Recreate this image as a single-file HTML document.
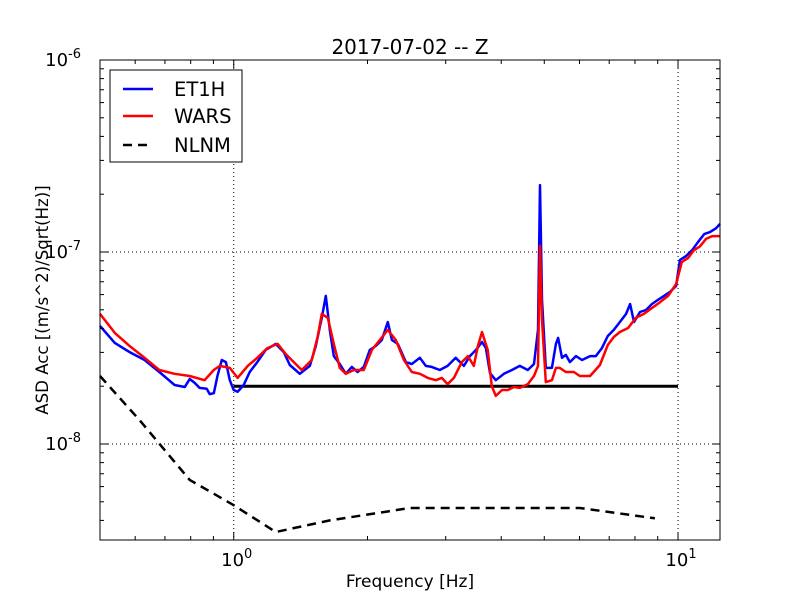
<!DOCTYPE html>
<html><head><meta charset="utf-8"><style>
body{margin:0;background:#fff;}
svg{display:block;font-family:"DejaVu Sans","Liberation Sans",sans-serif;}
</style></head><body>
<svg id="chart" width="800" height="600" viewBox="0 0 800 600" xmlns="http://www.w3.org/2000/svg">
<rect x="0" y="0" width="800" height="600" fill="#fff"/>
<g id="grid"></g>
<g id="series"></g>
<g id="axes"></g>
</svg>
<script>
// ---- data (frequency in Hz, ASD in (m/s^2)/sqrt(Hz)) ----
const et1hFreq=[0.50,0.54,0.583,0.63,0.68,0.736,0.776,0.796,0.817,0.838,0.869,0.883,0.902,0.92,0.94,0.96,0.98,1.0,1.02,1.053,1.086,1.13,1.18,1.243,1.296,1.337,1.408,1.483,1.53,1.578,1.611,1.645,1.68,1.733,1.787,1.844,1.90,1.962,2.024,2.088,2.154,2.222,2.27,2.34,2.44,2.517,2.624,2.706,2.79,2.91,3.03,3.16,3.296,3.40,3.51,3.62,3.695,3.773,3.89,4.055,4.227,4.405,4.59,4.74,4.84,4.89,4.94,5.04,5.20,5.31,5.37,5.48,5.59,5.71,5.89,6.08,6.34,6.53,6.74,6.95,7.17,7.40,7.64,7.80,7.96,8.21,8.47,8.74,9.01,9.30,9.59,9.90,10.1,10.42,10.75,11.1,11.45,11.8,12.18,12.43];
const et1hVals=[4.12,3.36,3.01,2.74,2.37,2.03,1.98,2.18,2.08,1.96,1.94,1.82,1.84,2.29,2.74,2.67,2.15,1.91,1.87,2.03,2.37,2.67,3.09,3.32,3.01,2.58,2.32,2.55,3.24,4.54,5.91,3.93,2.87,2.61,2.32,2.52,2.37,2.52,3.09,3.24,3.48,4.32,3.48,3.32,2.67,2.61,2.81,2.55,2.52,2.43,2.55,2.81,2.55,2.87,3.09,3.40,3.16,2.34,2.15,2.32,2.43,2.55,2.43,2.61,3.93,22.3,5.63,2.49,2.49,3.32,3.57,2.81,2.91,2.67,2.87,2.74,2.87,2.87,3.16,3.65,3.93,4.32,4.76,5.36,4.32,4.87,4.99,5.36,5.63,5.91,6.2,6.65,9.08,9.52,10.2,11.3,12.4,12.7,13.3,14.0];
const warsFreq=[0.50,0.54,0.583,0.63,0.68,0.736,0.796,0.86,0.902,0.93,0.98,1.02,1.075,1.13,1.19,1.256,1.31,1.365,1.422,1.499,1.546,1.578,1.628,1.68,1.733,1.787,1.863,1.962,2.046,2.132,2.222,2.316,2.415,2.517,2.624,2.734,2.85,2.94,3.03,3.13,3.26,3.365,3.47,3.544,3.62,3.73,3.81,3.89,4.015,4.14,4.27,4.405,4.59,4.74,4.84,4.89,4.94,5.04,5.20,5.31,5.42,5.59,5.83,6.01,6.34,6.67,6.95,7.17,7.40,7.72,8.04,8.38,8.74,9.11,9.50,9.90,10.2,10.53,10.86,11.2,11.56,11.93,12.43];
const warsVals=[4.76,3.79,3.24,2.81,2.43,2.32,2.26,2.15,2.43,2.55,2.49,2.21,2.55,2.81,3.16,3.32,2.94,2.67,2.43,2.74,3.65,4.76,4.54,3.32,2.49,2.32,2.43,2.43,3.09,3.48,3.93,3.48,2.74,2.37,2.32,2.21,2.15,2.21,2.05,2.21,2.67,2.87,2.55,3.24,3.83,3.09,2.0,1.78,1.91,1.91,1.98,1.96,2.05,2.26,2.55,10.8,4.43,2.10,2.15,2.49,2.49,2.37,2.37,2.26,2.26,2.58,3.28,3.61,3.83,4.02,4.54,4.76,5.11,5.48,5.91,6.81,8.87,9.3,10.2,10.7,11.7,12.1,12.1];
const nlnmFreq=[0.5,0.614,0.796,1.0,1.243,1.645,2.49,6.01,8.87];
const nlnmVals=[2.26,1.33,0.65,0.48,0.348,0.40,0.464,0.464,0.41];
const refFreq=[1,10];
const refVals=[2.0,2.0];
const valScale=1e-8;
const xTickVals=[1,10];
const xTickExp=["0","1"];
const yTickVals=[1e-8,1e-7,1e-6];
const yTickExp=["-8","-7","-6"];

// ---- axes ----
const L=100,R=720,T=60,B=540;
const xMinL=Math.log10(0.5),xMaxL=Math.log10(12.43);
const yMinL=-8.5,yMaxL=-6;
function xs(f){return L+(Math.log10(f)-xMinL)/(xMaxL-xMinL)*(R-L);}
function ys(v){return B-(Math.log10(v)-yMinL)/(yMaxL-yMinL)*(B-T);}
const NS="http://www.w3.org/2000/svg";
function mk(tag,parent){const e=document.createElementNS(NS,tag);parent.appendChild(e);return e;}
const grid=document.getElementById('grid'),ser=document.getElementById('series'),axes=document.getElementById('axes');

function line(parent,x1,y1,x2,y2,st,dash,w){const l=mk('line',parent);l.setAttribute('x1',x1);l.setAttribute('y1',y1);l.setAttribute('x2',x2);l.setAttribute('y2',y2);l.setAttribute('stroke',st);l.setAttribute('stroke-width',w||1);if(dash)l.setAttribute('stroke-dasharray',dash);return l;}

xTickVals.forEach(v=>{const g=line(grid,xs(v),T,xs(v),B,'#000','1,3',1);

});
yTickVals.forEach(v=>{const y=ys(v);if(y>T+1&&y<B){const g=line(grid,L,y,R,y,'#000','1,3',1);

}});

function path(fr,vals,color,w,dash,name){
  const p=mk('path',ser);
  p.setAttribute('d',fr.map((f,i)=>(i?'L':'M')+xs(f).toFixed(1)+','+ys(vals[i]*valScale).toFixed(1)).join(''));
  p.setAttribute('fill','none');p.setAttribute('stroke',color);p.setAttribute('stroke-width',w);
  p.setAttribute('stroke-linejoin','round');
  if(dash)p.setAttribute('stroke-dasharray',dash);
  
  
}
path(refFreq,refVals,'#000',3,null,'reference-level-line');
path(nlnmFreq,nlnmVals,'#000',2.5,'9,6','nlnm-line');
path(et1hFreq,et1hVals,'#0000ff',2.5,null,'et1h-line');
path(warsFreq,warsVals,'#ff0000',2.5,null,'wars-line');

const fr=mk('rect',axes);fr.setAttribute('x',L);fr.setAttribute('y',T);fr.setAttribute('width',R-L);fr.setAttribute('height',B-T);fr.setAttribute('fill','none');fr.setAttribute('stroke','#000');



for(let d=-1;d<=1;d++)for(let m=1;m<10;m++){const f=m*Math.pow(10,d);if(f<0.5||f>12.43)continue;const x=xs(f);const len=m===1?8:4;
line(axes,x,B,x,B-len,'#000');line(axes,x,T,x,T+len,'#000');}
for(let d=-9;d<=-6;d++)for(let m=1;m<10;m++){const v=m*Math.pow(10,d);const lv=Math.log10(v);if(lv<yMinL||lv>yMaxL)continue;const y=ys(v);const len=m===1?8:4;
line(axes,L,y,L+len,y,'#000');line(axes,R,y,R-len,y,'#000');}

function tickLabel(x,y,exp,anchor,name){
  const t=mk('text',axes);t.setAttribute('x',x);t.setAttribute('y',y);t.setAttribute('font-size','18');t.setAttribute('text-anchor',anchor);
  
  
  const a=mk('tspan',t);a.textContent='10';
  const b=mk('tspan',t);b.setAttribute('dy','-8');b.setAttribute('font-size','13');b.textContent=exp;
}
xTickVals.forEach((v,i)=>tickLabel(xs(v)+3,566,xTickExp[i],'middle','x-tick-label'));
yTickVals.forEach((v,i)=>tickLabel(81,ys(v)+6,yTickExp[i],'end','y-tick-label'));

function text(x,y,s,size,name,rot){const t=mk('text',axes);t.setAttribute('x',x);t.setAttribute('y',y);t.setAttribute('font-size',size);t.setAttribute('text-anchor','middle');t.textContent=s;if(rot)t.setAttribute('transform','rotate(-90 '+x+' '+y+')');

return t;}
text(410,54,'2017-07-02 -- Z',20,'chart-title');
text(410,587,'Frequency [Hz]',17,'x-axis-title');
text(48,300,'ASD Acc [(m/s^2)/Sqrt(Hz)]',16.6,'y-axis-title',true);

const lg=mk('g',axes);


const lb=mk('rect',lg);lb.setAttribute('x',110);lb.setAttribute('y',70);lb.setAttribute('width',132);lb.setAttribute('height',92);lb.setAttribute('fill','#fff');lb.setAttribute('stroke','#000');
const legNames=['ET1H','WARS','NLNM'],legCols=['#0000ff','#ff0000','#000'],legY=[89,116,145];
legNames.forEach((n,i)=>{
  const e=mk('g',lg);
  
  
  line(e,123,legY[i],153,legY[i],legCols[i],i===2?'9,6':null,2.5);
  const t=mk('text',e);t.setAttribute('x',174);t.setAttribute('y',legY[i]+7);t.setAttribute('font-size','19.5');t.textContent=n;
});
</script>
</body></html>
